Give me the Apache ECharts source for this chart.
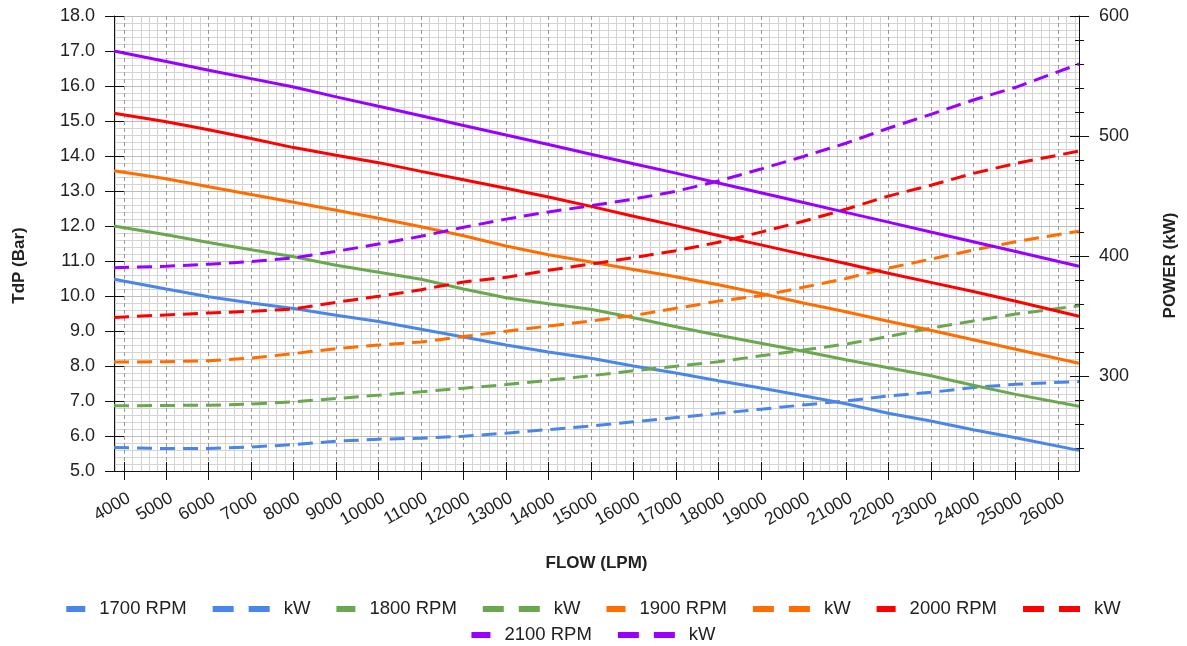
<!DOCTYPE html>
<html><head><meta charset="utf-8">
<script src="https://cdn.jsdelivr.net/npm/echarts@6/dist/echarts.min.js"></script>
<style>html,body{margin:0;padding:0;background:#fff}#c{width:1187px;height:646px}</style>
</head><body><div id="c"></div>
<script>
// ---- data ----
const flow = [3770, 5000, 6000, 7000, 8000, 9000, 10000, 11000, 12000, 13000, 14000, 15000, 16000, 17000, 18000, 19000, 20000, 21000, 22000, 23000, 24000, 25000, 26490];

const tdp1700 = [10.48, 10.2, 9.98, 9.8, 9.64, 9.45, 9.27, 9.05, 8.83, 8.6, 8.4, 8.22, 8.0, 7.8, 7.58, 7.37, 7.15, 6.92, 6.65, 6.43, 6.18, 5.95, 5.59];
const tdp1800 = [12.0, 11.75, 11.53, 11.32, 11.12, 10.88, 10.68, 10.48, 10.2, 9.95, 9.78, 9.62, 9.38, 9.12, 8.88, 8.65, 8.42, 8.18, 7.95, 7.72, 7.45, 7.19, 6.85];
const tdp1900 = [13.58, 13.35, 13.12, 12.9, 12.68, 12.45, 12.22, 11.98, 11.72, 11.43, 11.18, 10.97, 10.76, 10.55, 10.32, 10.07, 9.8, 9.55, 9.28, 9.02, 8.75, 8.48, 8.08];
const tdp2000 = [15.22, 14.98, 14.75, 14.5, 14.24, 14.02, 13.81, 13.56, 13.32, 13.08, 12.83, 12.56, 12.28, 12.01, 11.73, 11.46, 11.19, 10.93, 10.65, 10.39, 10.13, 9.85, 9.42];
const tdp2100 = [17.0, 16.7, 16.45, 16.21, 15.97, 15.69, 15.42, 15.15, 14.87, 14.6, 14.33, 14.05, 13.78, 13.51, 13.23, 12.95, 12.67, 12.39, 12.11, 11.83, 11.55, 11.27, 10.85];

const kw1700 = [240.6, 239.7, 239.7, 241, 243, 245.8, 247.5, 248.3, 250, 252.5, 255.5, 258.5, 262, 265.5, 269, 272.5, 276, 279.4, 283.5, 286.5, 290.5, 293.3, 295.5];
const kw1800 = [275.3, 275.6, 275.8, 276.7, 278.6, 281.4, 284.2, 287, 290, 293, 296.6, 300.4, 304.5, 308.3, 312, 317, 321.7, 326.7, 333, 340, 346, 351.7, 358.7];
const kw1900 = [311.7, 312, 312.9, 315, 318.8, 323, 325.9, 328.5, 333, 337.5, 341.8, 346, 350.5, 356.5, 362.5, 367, 374, 381.4, 390, 397.5, 405, 412, 420.8];
const kw2000 = [348.9, 351, 352.7, 354, 356, 361.5, 366.5, 372, 378.5, 382.3, 388.2, 393.4, 398.8, 404.5, 411.5, 420, 429, 439, 450, 459, 468.9, 477.2, 487.5];
const kw2100 = [390.3, 391.5, 393.3, 395.5, 398.6, 404, 410, 416.5, 424, 430.8, 436.8, 442, 447.5, 454, 462.5, 472.5, 483, 494, 506.5, 518, 530, 540.6, 560];

const rpmNames = ['1700 RPM', '1800 RPM', '1900 RPM', '2000 RPM', '2100 RPM'];
const kwKeys = ['kW 1700', 'kW 1800', 'kW 1900', 'kW 2000', 'kW 2100'];
const colors = ['#4a86e8', '#6aa84f', '#ff6d01', '#ff0000', '#9900ff'];

const xTicks = [4000, 5000, 6000, 7000, 8000, 9000, 10000, 11000, 12000, 13000, 14000, 15000, 16000, 17000, 18000, 19000, 20000, 21000, 22000, 23000, 24000, 25000, 26000];
const leftTicks = [5, 6, 7, 8, 9, 10, 11, 12, 13, 14, 15, 16, 17, 18];
const rightTicks = [300, 400, 500, 600];

// ---- helpers ----
const xMin = 3770, xMax = 26490, rMin = 221, rMax = 600;
const xMinor = [];
for (let v = 3800; v <= 26400; v += 200) if (v % 1000 !== 0) xMinor.push(v);
const rMinor = [];
for (let v = 240; v <= 580; v += 20) if (v % 100 !== 0) rMinor.push(v);

const tdp = [tdp1700, tdp1800, tdp1900, tdp2000, tdp2100];
const kw = [kw1700, kw1800, kw1900, kw2000, kw2100];
const pairs = ys => flow.map((x, i) => [x, ys[i]]);

const FONT = '"Liberation Sans", Arial, sans-serif';
const solidIcon = 'path://M0,0h19v6h-19zM28,0v6';
const dashIcon = 'path://M0,0h21v6h-21zM28,0v6';

const series = [];
const legendData = [];
for (let i = 0; i < 5; i++) {
  series.push({
    name: rpmNames[i], type: 'line', xAxisIndex: 0, yAxisIndex: 0,
    data: pairs(tdp[i]), symbol: 'none', z: 3,
    lineStyle: { width: 3, color: colors[i] }, itemStyle: { color: colors[i] }
  });
  series.push({
    name: kwKeys[i], type: 'line', xAxisIndex: 0, yAxisIndex: 2,
    data: pairs(kw[i]), symbol: 'none', z: 3,
    lineStyle: { width: 3, color: colors[i], type: [15, 8] }, itemStyle: { color: colors[i] }
  });
  legendData.push({ name: rpmNames[i], icon: solidIcon });
  legendData.push({ name: kwKeys[i], icon: dashIcon });
}

const rich = { g: { width: 3 }, h: { width: 14 } };
colors.forEach((c, i) => { rich['d' + i] = { width: 21, height: 6, backgroundColor: c, verticalAlign: 'middle' }; });
const legendFmt = name => {
  const k = kwKeys.indexOf(name);
  return k < 0 ? name : '{g|}{d' + k + '|}{h|}kW';
};
const legendBase = {
  left: 'center', itemGap: 26, itemWidth: 28, itemHeight: 6,
  itemStyle: { borderWidth: 0 },
  textStyle: { fontSize: 18.5, color: '#222', fontFamily: FONT, lineHeight: 20, rich: rich },
  formatter: legendFmt, selectedMode: false
};

const tickStyle = { color: '#111', width: 1 };
const hiddenAxisBits = { axisLine: { show: false }, axisLabel: { show: false }, splitLine: { show: false } };

const option = {
  animation: false,
  backgroundColor: '#fff',
  textStyle: { fontFamily: FONT },
  grid: { left: 114, right: 107, top: 16, bottom: 175, containLabel: false },
  legend: [
    Object.assign({}, legendBase, { top: 594, data: legendData.slice(0, 8) }),
    Object.assign({}, legendBase, { top: 620, data: legendData.slice(8) })
  ],
  xAxis: [
    {
      type: 'value', min: xMin, max: xMax, position: 'bottom', z: 1,
      name: 'FLOW (LPM)', nameLocation: 'middle', nameGap: 84,
      nameTextStyle: { fontSize: 17, fontWeight: 'bold', color: '#222', fontFamily: FONT },
      axisLine: { lineStyle: tickStyle },
      axisTick: { customValues: xTicks, length: 9, lineStyle: tickStyle },
      axisLabel: { customValues: xTicks, formatter: v => String(v), rotate: 30, fontSize: 17.5, color: '#222', margin: 29, padding: [0, -6, 0, 0], fontFamily: FONT },
      splitLine: { show: true, lineStyle: { color: '#999', type: [4, 3], width: 1 } }
    },
    {
      type: 'value', min: xMin, max: xMax, position: 'bottom', z: 0,
      axisLine: { show: false }, axisLabel: { show: false },
      axisTick: { show: false, customValues: xMinor },
      splitLine: { show: true, lineStyle: { color: '#d4d4d4', width: 1 } }
    },
    Object.assign({
      type: 'value', min: xMin, max: xMax, position: 'bottom', z: 1,
      axisTick: { show: true, inside: true, customValues: xTicks, length: 9, lineStyle: tickStyle }
    }, hiddenAxisBits)
  ],
  yAxis: [
    {
      type: 'value', min: 5, max: 18, interval: 1, position: 'left', z: 1,
      name: 'TdP (Bar)', nameLocation: 'middle', nameGap: 86,
      nameTextStyle: { fontSize: 17, fontWeight: 'bold', color: '#222', fontFamily: FONT, padding: [0, 44, 0, 0] },
      axisLine: { show: true, lineStyle: tickStyle },
      axisTick: { show: true, length: 9, lineStyle: tickStyle },
      axisLabel: { formatter: v => v.toFixed(1), fontSize: 18, color: '#222', margin: 19, fontFamily: FONT },
      splitLine: { show: true, lineStyle: { color: '#bdbdbd', width: 1 } },
      minorTick: { show: false, splitNumber: 5 },
      minorSplitLine: { show: true, lineStyle: { color: '#d4d4d4', width: 1 } }
    },
    Object.assign({
      type: 'value', min: 5, max: 18, interval: 1, position: 'left', z: 1,
      axisTick: { show: true, inside: true, length: 10, lineStyle: tickStyle }
    }, hiddenAxisBits),
    {
      type: 'value', min: rMin, max: rMax, position: 'right', z: 1,
      name: 'POWER (kW)', nameLocation: 'middle', nameGap: 83,
      nameTextStyle: { fontSize: 17, fontWeight: 'bold', color: '#222', fontFamily: FONT, padding: [0, 44, 0, 0] },
      axisLine: { show: true, lineStyle: tickStyle },
      axisTick: { show: true, customValues: rightTicks, length: 10, lineStyle: tickStyle },
      axisLabel: { customValues: rightTicks, fontSize: 18, color: '#222', margin: 20, fontFamily: FONT },
      splitLine: { show: false }
    },
    Object.assign({
      type: 'value', min: rMin, max: rMax, position: 'right', z: 1,
      axisTick: { show: true, inside: true, customValues: rightTicks, length: 9, lineStyle: tickStyle }
    }, hiddenAxisBits),
    Object.assign({
      type: 'value', min: rMin, max: rMax, position: 'right', z: 1,
      axisTick: { show: true, customValues: rMinor, length: 5, lineStyle: tickStyle }
    }, hiddenAxisBits),
    Object.assign({
      type: 'value', min: rMin, max: rMax, position: 'right', z: 1,
      axisTick: { show: true, inside: true, customValues: rMinor, length: 4, lineStyle: tickStyle }
    }, hiddenAxisBits)
  ],
  series: series
};

const chart = echarts.init(document.getElementById('c'), null, { renderer: 'canvas' });
chart.setOption(option);
</script>
</body></html>
